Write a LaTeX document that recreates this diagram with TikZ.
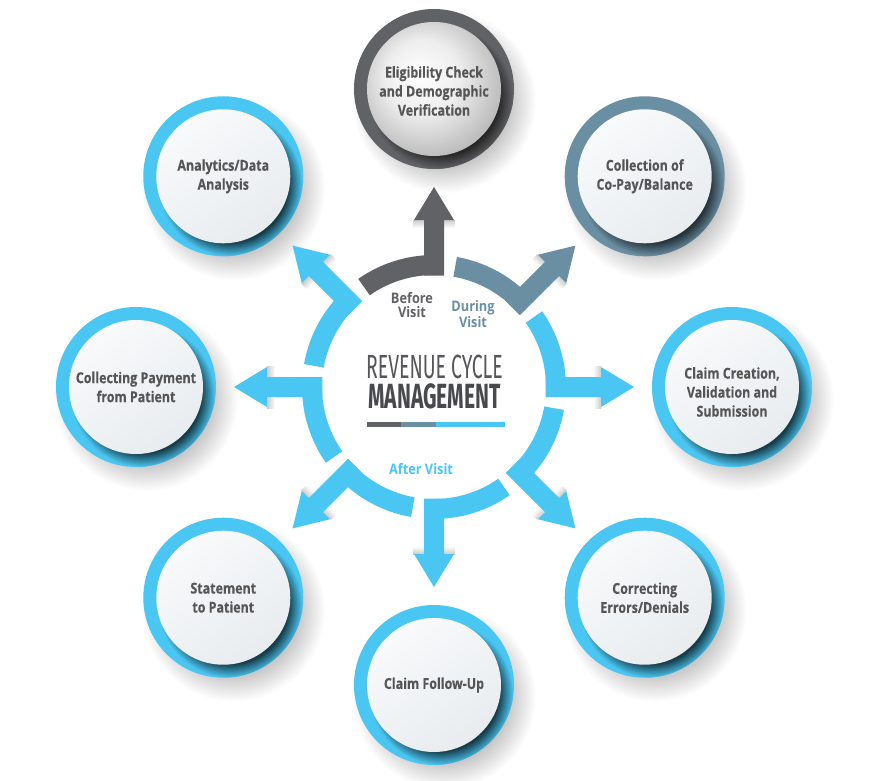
\documentclass[tikz,border=0pt]{standalone}
\usepackage{fontspec}
\usepackage{graphicx}
\usetikzlibrary{calc}
\setmainfont{Open Sans}
\newfontfamily\circfont{Open Sans}[FakeStretch=0.83, FakeBold=0.3]
\newfontfamily\lblfont{Open Sans}[FakeStretch=0.88]
\newfontfamily\headfont{Fira Sans}
\definecolor{rcmblue}{HTML}{4AC6F2}
\definecolor{rcmgray}{HTML}{616266}
\definecolor{rcmsteel}{HTML}{6A8FA3}
\definecolor{rcmtext}{HTML}{555555}
\definecolor{rcmhead}{HTML}{555659}
\definecolor{rcmdiskA}{HTML}{F8FAFB}
\definecolor{rcmdiskB}{HTML}{E8ECEF}
\colorlet{ringc}{rcmblue}
\colorlet{ringdk}{black}
\pgfdeclareradialshading{softshadow}{\pgfpoint{0bp}{0bp}}{color(0bp)=(black!34); color(15bp)=(black!30); color(25bp)=(white); color(50bp)=(white)}
\pgfdeclareradialshading[ringc,ringdk]{innershadow}{\pgfpoint{0bp}{0bp}}{color(0bp)=(ringdk); color(20bp)=(ringdk); color(25bp)=(ringc); color(50bp)=(ringc)}
\pgfdeclareradialshading{eligdisk}{\pgfpoint{-6bp}{6bp}}{color(0bp)=(white); color(14bp)=(white!93!black); color(28bp)=(white!74!black); color(50bp)=(white!70!black)}
\newcommand{\rcmheadshadow}[1]{%
  \begin{scope}[transform canvas={rotate=#1}]
    \shade[left color=white, right color=black!20] (159,-21) rectangle (167,21);
  \end{scope}
}
\newcommand{\rcmpiece}[2]{%
  \fill[#2] (#1:112) arc[start angle=#1, end angle=#1+35, radius=112] -- (#1+35:132) arc[start angle=#1+35, end angle=#1, radius=132] -- cycle;
  \fill[#2, rotate=#1] (111.5,-10) -- (167,-10) -- (167,-20) -- (200,0) -- (167,20) -- (167,10) -- (111.5,10) -- cycle;
}
\newcommand{\rcmcircle}[4]{%
  \fill[#2] (#1) circle[radius=80];
  \colorlet{ringc}{#2}\colorlet{ringdk}{#3}%
  \begin{scope}
    \clip (#1) circle[radius=80];
    \shade[shading=innershadow, shift={(#1)}] (7,-8) circle[radius=72];
  \end{scope}
  \shade[#4, shift={(#1)}] (0,0) circle[radius=67];
}
\tikzset{
  diskstyle/.style={top color=rcmdiskA, bottom color=rcmdiskB, shading angle=35},
  eligstyle/.style={shading=eligdisk},
  circtext/.style={align=center, text=rcmtext, font=\circfont\bfseries\fontsize{15}{19}\selectfont},
  lbl/.style={align=center, font=\lblfont\bfseries\fontsize{14.5}{14}\selectfont}
}
\begin{document}
\begin{tikzpicture}[x=1pt,y=1pt]
\useasboundingbox (-434,-393) rectangle (436,387);
\fill[white] (-434,-393) rectangle (436,387);
\foreach \n/\a in {elig/90, copay/45, claim/0, correct/-45, follow/-90, stmt/-135, collect/180, analytics/135}
  \coordinate (\n) at (\a:298);
% soft outer shadows
\foreach \n in {elig, copay, claim, correct, follow, stmt, collect, analytics}
  \shade[shading=softshadow, shift={(\n)}] (10,-12) circle[radius=92];
% arrowhead shadows
\foreach \a in {90,45,0,-45,-90,-135,180,135}
  {\rcmheadshadow{\a}}
% ring pieces with arrows
\rcmpiece{90}{rcmgray}
\rcmpiece{45}{rcmsteel}
\rcmpiece{0}{rcmblue}
\rcmpiece{-45}{rcmblue}
\rcmpiece{-90}{rcmblue}
\rcmpiece{-135}{rcmblue}
\rcmpiece{180}{rcmblue}
\rcmpiece{135}{rcmblue}
% circles
\rcmcircle{elig}{rcmgray}{black!85}{eligstyle}
\rcmcircle{copay}{rcmsteel}{rcmsteel!35!black}{diskstyle}
\rcmcircle{claim}{rcmblue}{rcmblue!30!black}{diskstyle}
\rcmcircle{correct}{rcmblue}{rcmblue!30!black}{diskstyle}
\rcmcircle{follow}{rcmblue}{rcmblue!30!black}{diskstyle}
\rcmcircle{stmt}{rcmblue}{rcmblue!30!black}{diskstyle}
\rcmcircle{collect}{rcmblue}{rcmblue!30!black}{diskstyle}
\rcmcircle{analytics}{rcmblue}{rcmblue!30!black}{diskstyle}
% circle texts
\node[circtext] (t-elig) at ($(elig)+(0,-2)$) {Eligibility Check\\and Demographic\\Verification};
\node[circtext] (t-copay) at (copay) {Collection of\\Co-Pay/Balance};
\node[circtext] (t-claim) at ($(claim)+(0,-5)$) {Claim Creation,\\Validation and\\Submission};
\node[circtext] (t-correct) at (correct) {Correcting\\Errors/Denials};
\node[circtext] (t-follow) at (follow) {Claim Follow-Up};
\node[circtext] (t-stmt) at (stmt) {Statement\\to Patient};
\node[circtext] (t-collect) at (collect) {Collecting Payment\\from Patient};
\node[circtext] (t-analytics) at (analytics) {Analytics/Data\\Analysis};
% phase labels
\node[lbl, text=rcmgray] (before) at (-22,82) {Before\\Visit};
\node[lbl, text=rcmsteel] (during) at (39,73) {During\\Visit};
\node[lbl, text=rcmblue] (after) at (-13,-82) {After Visit};
% title
\node[align=center, text=rcmhead, inner sep=0pt, font=\headfont\fontsize{34}{30}\selectfont] (title) at (0.5,4.5)
  {\scalebox{0.58}[1]{\fontsize{33.5}{30}\selectfont REVENUE CYCLE}\\
   \textcolor{rcmhead!85!black}{\scalebox{0.6}[1]{\bfseries\fontsize{35}{30}\selectfont MANAGEMENT}}};
\fill[rcmgray] (-67,-40) rectangle (-33,-35);
\fill[rcmsteel] (-33,-40) rectangle (2,-35);
\fill[rcmblue] (2,-40) rectangle (71,-35);
\end{tikzpicture}
\end{document}
